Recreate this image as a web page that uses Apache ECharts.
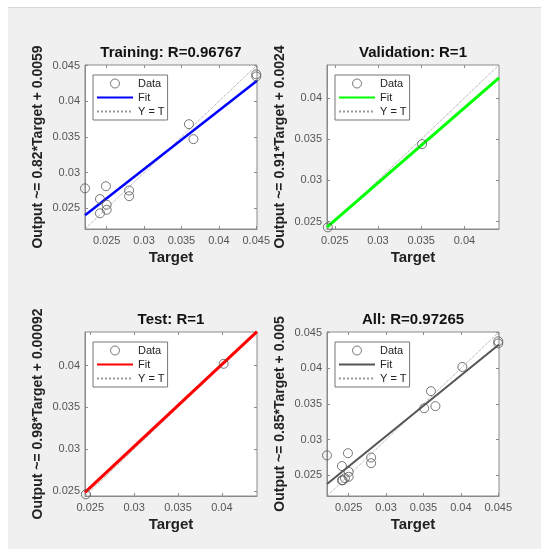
<!DOCTYPE html>
<html>
<head>
<meta charset="utf-8">
<title>Regression plots</title>
<script src="https://cdn.jsdelivr.net/npm/echarts@6/dist/echarts.min.js"></script>
<style>
html, body { margin: 0; padding: 0; background: #fff; }
#panel { position: absolute; left: 8px; top: 7px; width: 533px; height: 541px; background: #f0f0f0; border-top: 1px solid #d6d6d6; }
#main { position: absolute; left: 0; top: 0; width: 550px; height: 557px; }
</style>
</head>
<body>
<div id="panel"></div>
<div id="main"></div>
<script>
// points: target / output
var trainTarget = [0.0221, 0.0249, 0.0241, 0.0250, 0.0250, 0.0241, 0.0280, 0.0280, 0.0360, 0.0366, 0.0450, 0.0450];
var trainOutput = [0.0278, 0.0281, 0.0263, 0.0255, 0.0248, 0.0243, 0.0275, 0.0267, 0.0368, 0.0347, 0.0438, 0.0435];
var valTarget = [0.0242, 0.0351];
var valOutput = [0.0243, 0.0344];
var testTarget = [0.0245, 0.0402];
var testOutput = [0.0246, 0.0402];

var panelTitles = ['Training: R=0.96767', 'Validation: R=1', 'Test: R=1', 'All: R=0.97265'];
var panelYNames = ['Output ~= 0.82*Target + 0.0059', 'Output ~= 0.91*Target + 0.0024',
                   'Output ~= 0.98*Target + 0.00092', 'Output ~= 0.85*Target + 0.005'];
var fitSlope = [0.82, 0.91, 0.98, 0.85];
var fitIntercept = [0.0059, 0.0024, 0.00092, 0.005];
var axisMin = [0.0221, 0.0241, 0.0244, 0.0221];
var axisMax = [0.0451, 0.0440, 0.0440, 0.0451];
var ticksWide = [0.025, 0.03, 0.035, 0.04, 0.045];
var ticksShort = [0.025, 0.03, 0.035, 0.04];

var FONT = 'Liberation Sans, Arial, Helvetica, sans-serif';
var BOX = '#8a8a8a';
var fitColors = ['#0000ff', '#00ff00', '#ff0000', '#555555'];
var fitWidths = [2.5, 3, 3, 2];
// grid boxes: left, top
var boxPos = [[85, 65], [327, 65], [85, 332], [327, 332]];

function pairs(t, o){
	var out = [];
	for(var i=0;i<t.length;i++){
		out.push([t[i], o[i]]);
	}
	return out;
}

function buildOption(){
	var allTarget = trainTarget.concat(valTarget, testTarget);
	var allOutput = trainOutput.concat(valOutput, testOutput);
	var panelData = [pairs(trainTarget, trainOutput), pairs(valTarget, valOutput),
	                 pairs(testTarget, testOutput), pairs(allTarget, allOutput)];
	var panelTicks = [ticksWide, ticksShort, ticksShort, ticksWide];

	var option = {
		animation: false,
		backgroundColor: 'transparent',
		title: [], legend: [], grid: [], xAxis: [], yAxis: [], series: []
	};

	for(var i=0;i<4;i++){
		var lo = axisMin[i], hi = axisMax[i], ticks = panelTicks[i];
		var left = boxPos[i][0], top = boxPos[i][1];

		option.grid.push({
			left: left, top: top, width: 172, height: 164,
			show: true, backgroundColor: '#fff', borderColor: BOX, borderWidth: 1,
			outerBoundsMode: 'none'
		});

		option.title.push({
			text: panelTitles[i],
			left: left + 86, top: top - 20, textAlign: 'center', padding: 0,
			textStyle: { fontFamily: FONT, fontSize: 15, fontWeight: 'bold', color: '#111' }
		});

		// bottom / left axes with labels
		option.xAxis.push({
			type: 'value', gridIndex: i, min: lo, max: hi,
			name: 'Target', nameLocation: 'middle', nameGap: 21,
			nameTextStyle: { fontFamily: FONT, fontSize: 15, fontWeight: 'bold', color: '#222' },
			axisLine: { show: true, lineStyle: { color: BOX } },
			axisTick: { inside: true, length: 3, customValues: ticks, lineStyle: { color: BOX } },
			axisLabel: { customValues: ticks, fontFamily: FONT, fontSize: 11, color: '#555', margin: 6 },
			splitLine: { show: false }
		});
		option.yAxis.push({
			type: 'value', gridIndex: i, min: lo, max: hi,
			name: panelYNames[i], nameLocation: 'middle', nameGap: 40,
			nameTextStyle: { fontFamily: FONT, fontSize: 14, fontWeight: 'bold', color: '#222' },
			axisLine: { show: true, lineStyle: { color: BOX } },
			axisTick: { inside: true, length: 3, customValues: ticks, lineStyle: { color: BOX } },
			axisLabel: { customValues: ticks, fontFamily: FONT, fontSize: 11, color: '#555', margin: 5 },
			splitLine: { show: false }
		});
		// mirrored ticks on top / right
		option.xAxis.push({
			type: 'value', gridIndex: i, position: 'top', min: lo, max: hi,
			axisLine: { show: false },
			axisTick: { inside: true, length: 3, customValues: ticks, lineStyle: { color: BOX } },
			axisLabel: { show: false }, splitLine: { show: false }
		});
		option.yAxis.push({
			type: 'value', gridIndex: i, position: 'right', min: lo, max: hi,
			axisLine: { show: false },
			axisTick: { inside: true, length: 3, customValues: ticks, lineStyle: { color: BOX } },
			axisLabel: { show: false }, splitLine: { show: false }
		});

		var s = fitSlope[i], b = fitIntercept[i];
		option.series.push({
			type: 'line', name: 'Y = T#' + i, xAxisIndex: 2*i, yAxisIndex: 2*i,
			data: [[lo, lo], [hi, hi]], symbol: 'none', silent: true, z: 2,
			lineStyle: { color: '#9a9a9a', width: 1, type: 'dotted' }
		});
		option.series.push({
			type: 'line', name: 'Fit#' + i, xAxisIndex: 2*i, yAxisIndex: 2*i,
			data: [[lo, s*lo + b], [hi, s*hi + b]], symbol: 'none', silent: true, z: 3,
			lineStyle: { color: fitColors[i], width: fitWidths[i] }
		});
		option.series.push({
			type: 'scatter', name: 'Data#' + i, xAxisIndex: 2*i, yAxisIndex: 2*i,
			data: panelData[i], symbol: 'circle', symbolSize: 9, silent: true, z: 4,
			itemStyle: { color: 'rgba(0,0,0,0)', borderColor: '#555', borderWidth: 1 }
		});

		option.legend.push({
			orient: 'vertical', left: left + 8, top: top + 10,
			data: [
				{ name: 'Data#' + i, itemStyle: { color: 'rgba(0,0,0,0)', borderColor: '#555', borderWidth: 1 } },
				{ name: 'Fit#' + i, itemStyle: { opacity: 0 } },
				{ name: 'Y = T#' + i, itemStyle: { opacity: 0 } }
			],
			formatter: function(name){ return name.split('#')[0]; },
			itemWidth: 36, itemHeight: 9, itemGap: 3,
			padding: [3, 3, 3, 3],
			backgroundColor: '#fff', borderColor: '#777', borderWidth: 1,
			selectedMode: false,
			textStyle: { fontFamily: FONT, fontSize: 11, color: '#222' }
		});
	}
	return option;
}

var myChart = echarts.init(document.getElementById('main'));
myChart.setOption(buildOption());
</script>
</body>
</html>
